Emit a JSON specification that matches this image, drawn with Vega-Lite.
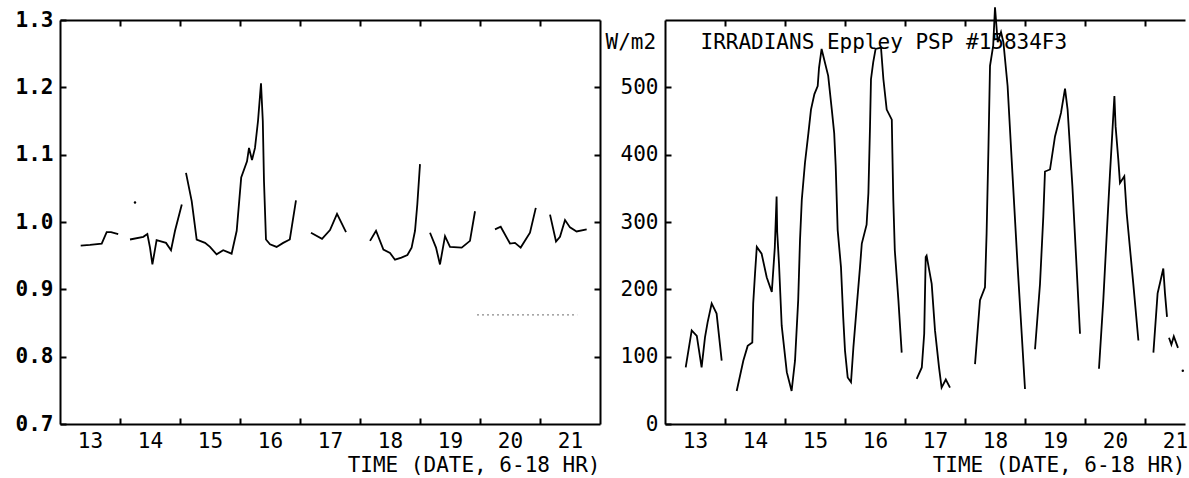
{
  "$schema": "https://vega.github.io/schema/vega-lite/v6.json",
  "background": "white",
  "padding": {"left": 15, "top": 3, "right": 0, "bottom": 0},
  "autosize": {"type": "pad"},
  "spacing": 65,
  "bounds": "flush",
  "datasets": {
    "ratio": [
      {"s": "A", "t": 12.845, "v": 0.965}, {"s": "A", "t": 13.0, "v": 0.966}, {"s": "A", "t": 13.195, "v": 0.968}, {"s": "A", "t": 13.278, "v": 0.985}, {"s": "A", "t": 13.35, "v": 0.985}, {"s": "A", "t": 13.47, "v": 0.982},
      {"s": "B", "t": 13.667, "v": 0.974}, {"s": "B", "t": 13.889, "v": 0.978}, {"s": "B", "t": 13.956, "v": 0.982}, {"s": "B", "t": 14.0, "v": 0.962}, {"s": "B", "t": 14.04, "v": 0.937}, {"s": "B", "t": 14.11, "v": 0.973}, {"s": "B", "t": 14.267, "v": 0.969}, {"s": "B", "t": 14.35, "v": 0.958}, {"s": "B", "t": 14.417, "v": 0.987}, {"s": "B", "t": 14.53, "v": 1.026},
      {"s": "C", "t": 14.6, "v": 1.073}, {"s": "C", "t": 14.695, "v": 1.031}, {"s": "C", "t": 14.778, "v": 0.974}, {"s": "C", "t": 14.917, "v": 0.969}, {"s": "C", "t": 15.0, "v": 0.963}, {"s": "C", "t": 15.11, "v": 0.952}, {"s": "C", "t": 15.22, "v": 0.958}, {"s": "C", "t": 15.36, "v": 0.953}, {"s": "C", "t": 15.445, "v": 0.987}, {"s": "C", "t": 15.52, "v": 1.066}, {"s": "C", "t": 15.617, "v": 1.09}, {"s": "C", "t": 15.65, "v": 1.11}, {"s": "C", "t": 15.7, "v": 1.092}, {"s": "C", "t": 15.75, "v": 1.11}, {"s": "C", "t": 15.8, "v": 1.15}, {"s": "C", "t": 15.85, "v": 1.206}, {"s": "C", "t": 15.88, "v": 1.15}, {"s": "C", "t": 15.9, "v": 1.06}, {"s": "C", "t": 15.933, "v": 0.974}, {"s": "C", "t": 16.0, "v": 0.967}, {"s": "C", "t": 16.11, "v": 0.963}, {"s": "C", "t": 16.22, "v": 0.969}, {"s": "C", "t": 16.33, "v": 0.974}, {"s": "C", "t": 16.433, "v": 1.032},
      {"s": "D", "t": 16.683, "v": 0.984}, {"s": "D", "t": 16.867, "v": 0.975}, {"s": "D", "t": 17.0, "v": 0.988}, {"s": "D", "t": 17.117, "v": 1.012}, {"s": "D", "t": 17.267, "v": 0.985},
      {"s": "E", "t": 17.667, "v": 0.972}, {"s": "E", "t": 17.767, "v": 0.987}, {"s": "E", "t": 17.89, "v": 0.959}, {"s": "E", "t": 18.0, "v": 0.954}, {"s": "E", "t": 18.083, "v": 0.944}, {"s": "E", "t": 18.19, "v": 0.947}, {"s": "E", "t": 18.29, "v": 0.951}, {"s": "E", "t": 18.36, "v": 0.962}, {"s": "E", "t": 18.417, "v": 0.987}, {"s": "E", "t": 18.455, "v": 1.026}, {"s": "E", "t": 18.5, "v": 1.086},
      {"s": "F", "t": 18.667, "v": 0.984}, {"s": "F", "t": 18.767, "v": 0.962}, {"s": "F", "t": 18.833, "v": 0.937}, {"s": "F", "t": 18.917, "v": 0.979}, {"s": "F", "t": 19.0, "v": 0.963}, {"s": "F", "t": 19.195, "v": 0.962}, {"s": "F", "t": 19.333, "v": 0.972}, {"s": "F", "t": 19.417, "v": 1.016},
      {"s": "G", "t": 19.75, "v": 0.989}, {"s": "G", "t": 19.845, "v": 0.993}, {"s": "G", "t": 20.0, "v": 0.968}, {"s": "G", "t": 20.083, "v": 0.969}, {"s": "G", "t": 20.178, "v": 0.962}, {"s": "G", "t": 20.333, "v": 0.984}, {"s": "G", "t": 20.43, "v": 1.021},
      {"s": "H", "t": 20.667, "v": 1.011}, {"s": "H", "t": 20.767, "v": 0.971}, {"s": "H", "t": 20.833, "v": 0.978}, {"s": "H", "t": 20.917, "v": 1.003}, {"s": "H", "t": 21.0, "v": 0.992}, {"s": "H", "t": 21.11, "v": 0.986}, {"s": "H", "t": 21.278, "v": 0.989}
    ],
    "ref": [{"t": 19.45, "v": 0.862}, {"t": 21.12, "v": 0.862}],
    "dotL": [{"t": 13.75, "v": 1.029}],
    "irr": [
      {"s": "1", "t": 12.845, "v": 84}, {"s": "1", "t": 12.945, "v": 139}, {"s": "1", "t": 13.03, "v": 131}, {"s": "1", "t": 13.11, "v": 84}, {"s": "1", "t": 13.167, "v": 129}, {"s": "1", "t": 13.21, "v": 151}, {"s": "1", "t": 13.278, "v": 179}, {"s": "1", "t": 13.36, "v": 164}, {"s": "1", "t": 13.445, "v": 94},
      {"s": "2", "t": 13.695, "v": 49}, {"s": "2", "t": 13.805, "v": 94}, {"s": "2", "t": 13.878, "v": 116}, {"s": "2", "t": 13.955, "v": 121}, {"s": "2", "t": 13.97, "v": 179}, {"s": "2", "t": 14.0, "v": 223}, {"s": "2", "t": 14.03, "v": 263}, {"s": "2", "t": 14.11, "v": 253}, {"s": "2", "t": 14.195, "v": 218}, {"s": "2", "t": 14.28, "v": 196}, {"s": "2", "t": 14.33, "v": 262}, {"s": "2", "t": 14.36, "v": 338}, {"s": "2", "t": 14.37, "v": 285}, {"s": "2", "t": 14.4, "v": 238}, {"s": "2", "t": 14.445, "v": 146}, {"s": "2", "t": 14.53, "v": 77}, {"s": "2", "t": 14.61, "v": 49}, {"s": "2", "t": 14.667, "v": 94}, {"s": "2", "t": 14.72, "v": 184}, {"s": "2", "t": 14.75, "v": 273}, {"s": "2", "t": 14.78, "v": 333}, {"s": "2", "t": 14.833, "v": 388}, {"s": "2", "t": 14.89, "v": 432}, {"s": "2", "t": 14.933, "v": 467}, {"s": "2", "t": 14.99, "v": 490}, {"s": "2", "t": 15.045, "v": 502}, {"s": "2", "t": 15.067, "v": 529}, {"s": "2", "t": 15.11, "v": 557}, {"s": "2", "t": 15.22, "v": 517}, {"s": "2", "t": 15.28, "v": 467}, {"s": "2", "t": 15.32, "v": 432}, {"s": "2", "t": 15.345, "v": 383}, {"s": "2", "t": 15.378, "v": 288}, {"s": "2", "t": 15.433, "v": 233}, {"s": "2", "t": 15.47, "v": 159}, {"s": "2", "t": 15.5, "v": 109}, {"s": "2", "t": 15.545, "v": 69}, {"s": "2", "t": 15.6, "v": 62}, {"s": "2", "t": 15.64, "v": 114}, {"s": "2", "t": 15.695, "v": 174}, {"s": "2", "t": 15.75, "v": 233}, {"s": "2", "t": 15.78, "v": 268}, {"s": "2", "t": 15.86, "v": 296}, {"s": "2", "t": 15.89, "v": 343}, {"s": "2", "t": 15.917, "v": 442}, {"s": "2", "t": 15.933, "v": 512}, {"s": "2", "t": 15.97, "v": 537}, {"s": "2", "t": 16.01, "v": 557}, {"s": "2", "t": 16.1, "v": 559}, {"s": "2", "t": 16.14, "v": 512}, {"s": "2", "t": 16.195, "v": 467}, {"s": "2", "t": 16.28, "v": 452}, {"s": "2", "t": 16.29, "v": 402}, {"s": "2", "t": 16.305, "v": 333}, {"s": "2", "t": 16.33, "v": 258}, {"s": "2", "t": 16.39, "v": 184}, {"s": "2", "t": 16.445, "v": 106},
      {"s": "3", "t": 16.695, "v": 67}, {"s": "3", "t": 16.78, "v": 84}, {"s": "3", "t": 16.82, "v": 134}, {"s": "3", "t": 16.845, "v": 248}, {"s": "3", "t": 16.86, "v": 250}, {"s": "3", "t": 16.945, "v": 208}, {"s": "3", "t": 17.0, "v": 139}, {"s": "3", "t": 17.067, "v": 84}, {"s": "3", "t": 17.11, "v": 54}, {"s": "3", "t": 17.18, "v": 66}, {"s": "3", "t": 17.25, "v": 54},
      {"s": "4", "t": 17.667, "v": 89}, {"s": "4", "t": 17.75, "v": 184}, {"s": "4", "t": 17.833, "v": 203}, {"s": "4", "t": 17.86, "v": 283}, {"s": "4", "t": 17.89, "v": 407}, {"s": "4", "t": 17.917, "v": 532}, {"s": "4", "t": 17.97, "v": 562}, {"s": "4", "t": 18.0, "v": 619}, {"s": "4", "t": 18.045, "v": 567}, {"s": "4", "t": 18.1, "v": 582}, {"s": "4", "t": 18.14, "v": 567}, {"s": "4", "t": 18.21, "v": 502}, {"s": "4", "t": 18.29, "v": 373}, {"s": "4", "t": 18.378, "v": 233}, {"s": "4", "t": 18.445, "v": 134}, {"s": "4", "t": 18.5, "v": 52},
      {"s": "5", "t": 18.667, "v": 111}, {"s": "5", "t": 18.75, "v": 208}, {"s": "5", "t": 18.805, "v": 308}, {"s": "5", "t": 18.833, "v": 375}, {"s": "5", "t": 18.917, "v": 378}, {"s": "5", "t": 19.0, "v": 427}, {"s": "5", "t": 19.1, "v": 462}, {"s": "5", "t": 19.167, "v": 498}, {"s": "5", "t": 19.21, "v": 467}, {"s": "5", "t": 19.29, "v": 353}, {"s": "5", "t": 19.36, "v": 233}, {"s": "5", "t": 19.417, "v": 134},
      {"s": "6", "t": 19.733, "v": 82}, {"s": "6", "t": 19.805, "v": 184}, {"s": "6", "t": 19.878, "v": 308}, {"s": "6", "t": 19.917, "v": 373}, {"s": "6", "t": 19.955, "v": 432}, {"s": "6", "t": 19.99, "v": 487}, {"s": "6", "t": 20.01, "v": 442}, {"s": "6", "t": 20.055, "v": 393}, {"s": "6", "t": 20.083, "v": 358}, {"s": "6", "t": 20.155, "v": 368}, {"s": "6", "t": 20.195, "v": 313}, {"s": "6", "t": 20.305, "v": 208}, {"s": "6", "t": 20.39, "v": 124},
      {"s": "7", "t": 20.64, "v": 106}, {"s": "7", "t": 20.71, "v": 194}, {"s": "7", "t": 20.767, "v": 216}, {"s": "7", "t": 20.805, "v": 231}, {"s": "7", "t": 20.833, "v": 194}, {"s": "7", "t": 20.867, "v": 159}
    ],
    "irrM": [{"t": 20.9, "v": 128}, {"t": 20.94, "v": 118}, {"t": 20.98, "v": 130}, {"t": 21.05, "v": 113}],
    "dotR": [{"t": 21.13, "v": 79}]
  },
  "hconcat": [
    {
      "width": 540,
      "height": 404,
      "resolve": {"axis": {"x": "independent", "y": "independent"}},
      "layer": [
        {
          "data": {"name": "ratio"},
          "mark": {"type": "line", "color": "black", "strokeWidth": 1.8},
          "encoding": {
            "x": {"field": "t", "type": "quantitative", "scale": {"domain": [12.5, 21.5], "nice": false, "zero": false},
                  "axis": {"orient": "bottom", "values": [13, 14, 15, 16, 17, 18, 19, 20, 21], "ticks": false, "labelPadding": 6, "title": "TIME (DATE, 6-18 HR)", "titleAnchor": "end", "titlePadding": 3}},
            "y": {"field": "v", "type": "quantitative", "scale": {"domain": [0.7, 1.3], "nice": false, "zero": false},
                  "axis": {"orient": "left", "values": [0.7, 0.8, 0.9, 1.0, 1.1, 1.2, 1.3], "format": ".1f", "tickSize": -6, "labelPadding": 13, "title": null, "labelFontWeight": "bold"}},
            "detail": {"field": "s"}
          }
        },
        {
          "data": {"name": "ref"},
          "mark": {"type": "line", "color": "#8a8a8a", "strokeWidth": 1.2, "strokeDash": [2, 3]},
          "encoding": {
            "x": {"field": "t", "type": "quantitative", "scale": {"domain": [12.5, 21.5], "nice": false, "zero": false},
                  "axis": {"orient": "top", "values": [13.5, 14.5, 15.5, 16.5, 17.5, 18.5, 19.5, 20.5], "labels": false, "tickSize": -6, "title": null}},
            "y": {"field": "v", "type": "quantitative", "scale": {"domain": [0.7, 1.3], "nice": false, "zero": false},
                  "axis": {"orient": "right", "values": [0.8, 0.9, 1.0, 1.1, 1.2], "labels": false, "tickSize": -6, "title": null}}
          }
        },
        {
          "data": {"name": "dotL"},
          "mark": {"type": "point", "filled": true, "color": "black", "size": 6, "opacity": 1},
          "encoding": {
            "x": {"field": "t", "type": "quantitative", "scale": {"domain": [12.5, 21.5], "nice": false, "zero": false},
                  "axis": {"orient": "bottom", "values": [13.5, 14.5, 15.5, 16.5, 17.5, 18.5, 19.5, 20.5], "labels": false, "tickSize": -6, "domain": false, "title": null}},
            "y": {"field": "v", "type": "quantitative", "scale": {"domain": [0.7, 1.3], "nice": false, "zero": false}, "axis": null}
          }
        }
      ]
    },
    {
      "width": 520,
      "height": 404,
      "resolve": {"axis": {"x": "independent", "y": "independent"}},
      "layer": [
        {
          "data": {"name": "irr"},
          "mark": {"type": "line", "color": "black", "strokeWidth": 1.8},
          "encoding": {
            "x": {"field": "t", "type": "quantitative", "scale": {"domain": [12.5, 21.1667], "nice": false, "zero": false},
                  "axis": {"orient": "bottom", "values": [13, 14, 15, 16, 17, 18, 19, 20, 21], "ticks": false, "labelPadding": 6, "title": "TIME (DATE, 6-18 HR)", "titleAnchor": "end", "titlePadding": 3}},
            "y": {"field": "v", "type": "quantitative", "scale": {"domain": [0, 600], "nice": false, "zero": false},
                  "axis": {"orient": "left", "values": [0, 100, 200, 300, 400, 500], "format": "d", "tickSize": -6, "labelPadding": 13, "title": "W/m2", "titleAngle": 0, "titleX": -60, "titleY": 28, "titleAlign": "left", "titleBaseline": "alphabetic"}},
            "detail": {"field": "s"}
          }
        },
        {
          "data": {"name": "irrM"},
          "mark": {"type": "line", "color": "black", "strokeWidth": 1.8},
          "encoding": {
            "x": {"field": "t", "type": "quantitative", "scale": {"domain": [12.5, 21.1667], "nice": false, "zero": false},
                  "axis": {"orient": "top", "values": [13.5, 14.5, 15.5, 16.5, 17.5, 18.5, 19.5, 20.5], "labels": false, "tickSize": -6, "title": "IRRADIANS Eppley PSP #15834F3", "titleX": 35, "titleY": 28, "titleAlign": "left", "titleAnchor": "start", "titleBaseline": "alphabetic", "titleAngle": 0}},
            "y": {"field": "v", "type": "quantitative", "scale": {"domain": [0, 600], "nice": false, "zero": false}, "axis": null}
          }
        },
        {
          "data": {"name": "dotR"},
          "mark": {"type": "point", "filled": true, "color": "black", "size": 6, "opacity": 1},
          "encoding": {
            "x": {"field": "t", "type": "quantitative", "scale": {"domain": [12.5, 21.1667], "nice": false, "zero": false},
                  "axis": {"orient": "bottom", "values": [13.5, 14.5, 15.5, 16.5, 17.5, 18.5, 19.5, 20.5], "labels": false, "tickSize": -6, "domain": false, "title": null}},
            "y": {"field": "v", "type": "quantitative", "scale": {"domain": [0, 600], "nice": false, "zero": false}, "axis": null}
          }
        }
      ]
    }
  ],
  "config": {
    "font": "DejaVu Sans Mono",
    "view": {"stroke": null},
    "axis": {
      "grid": false,
      "labelFont": "DejaVu Sans Mono",
      "titleFont": "DejaVu Sans Mono",
      "labelFontSize": 21,
      "titleFontSize": 21,
      "titleFontWeight": "normal",
      "labelColor": "black",
      "titleColor": "black",
      "domainColor": "black",
      "tickColor": "black",
      "domainWidth": 2,
      "tickWidth": 2,
      "labelFlush": false,
      "labelOverlap": false,
      "labelBound": false
    }
  }
}
